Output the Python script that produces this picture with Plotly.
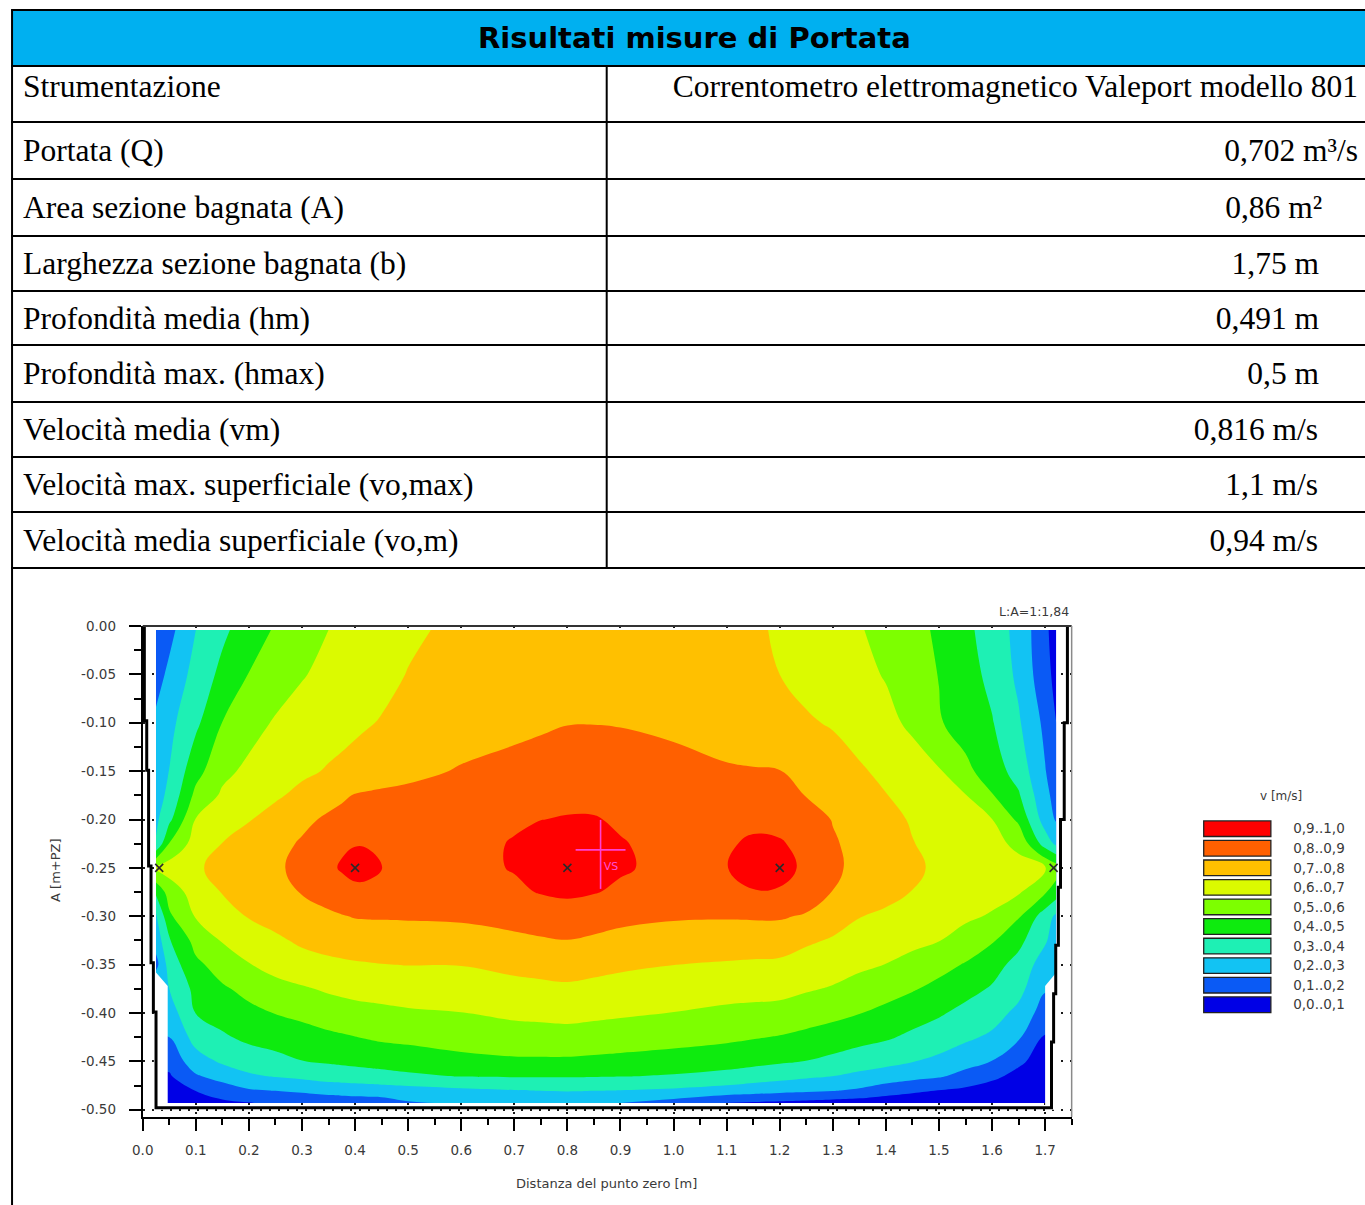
import plotly.graph_objects as go

# The figure sits inside the page's default 8px body margin, and the captured
# page is 8px larger than the target in each direction; page positions below
# are given in target pixels and converted with these factors.
PAGE_W, PAGE_H = 1365, 1205
PAGE_MARGIN = 8
KX = (PAGE_W + PAGE_MARGIN) / PAGE_W
KY = (PAGE_H + PAGE_MARGIN) / PAGE_H
W, H = PAGE_W, PAGE_H

# ---------------- summary table ----------------
TABLE_TITLE = "Risultati misure di Portata"
ROW_LABELS = [
    "Strumentazione",
    "Portata (Q)",
    "Area sezione bagnata (A)",
    "Larghezza sezione bagnata (b)",
    "Profondità media (hm)",
    "Profondità max. (hmax)",
    "Velocità media (vm)",
    "Velocità max. superficiale (vo,max)",
    "Velocità media superficiale (vo,m)",
]
ROW_VALUES = [
    "Correntometro elettromagnetico Valeport modello 801",
    "0,702 m³/s",
    "0,86 m²",
    "1,75 m",
    "0,491 m",
    "0,5 m",
    "0,816 m/s",
    "1,1 m/s",
    "0,94 m/s",
]

# ---------------- velocity field of the wetted section (m/s) ----------------
X_NODES = [0.025, 0.05, 0.1, 0.15, 0.2, 0.25, 0.3, 0.35, 0.375, 0.4, 0.425, 0.45, 0.5, 0.6, 0.7,
           0.75, 0.8, 0.85, 0.9, 1.0, 1.1, 1.15, 1.2, 1.25, 1.3, 1.35, 1.4, 1.45, 1.5, 1.55, 1.6,
           1.65, 1.7, 1.721]
Y_NODES = [-0.004, -0.05, -0.1, -0.15, -0.175, -0.2, -0.225, -0.25, -0.275, -0.3,
           -0.325, -0.35, -0.375, -0.4, -0.425, -0.45, -0.465, -0.48, -0.493]
V_GRID = [
    [.11, .17, .30, .38, .45, .51, .56, .60, .615, .63, .645, .66, .685, .72, .745, .756, .765, .767, .765, .75, .725, .709, .693, .664, .636, .607, .57, .53, .485, .423, .355, .27, .123, .05],
    [.16, .222, .336, .425, .503, .549, .594, .623, .637, .65, .664, .677, .703, .73, .755, .766, .775, .777, .775, .76, .735, .718, .70, .674, .648, .623, .594, .546, .497, .44, .374, .28, .135, .07],
    [.22, .273, .379, .502, .562, .61, .635, .66, .673, .685, .695, .705, .715, .74, .77, .785, .797, .798, .795, .78, .755, .74, .725, .71, .692, .658, .625, .582, .509, .456, .406, .312, .177, .10],
    [.25, .302, .466, .575, .622, .652, .682, .708, .718, .728, .739, .749, .769, .81, .835, .843, .85, .849, .845, .83, .81, .806, .802, .773, .742, .712, .678, .643, .609, .525, .45, .36, .205, .14],
    [.26, .323, .526, .615, .651, .686, .725, .767, .786, .805, .813, .82, .83, .85, .87, .875, .88, .878, .87, .855, .845, .838, .83, .797, .766, .734, .703, .67, .637, .604, .506, .411, .223, .17],
    [.28, .377, .605, .65, .695, .737, .779, .815, .828, .84, .846, .85, .857, .87, .89, .899, .905, .905, .89, .87, .872, .87, .868, .843, .796, .761, .726, .692, .662, .631, .602, .48, .255, .19],
    [.31, .505, .644, .702, .736, .772, .81, .855, .885, .895, .893, .87, .865, .875, .905, .935, .95, .94, .905, .875, .885, .92, .91, .87, .81, .772, .738, .703, .676, .65, .623, .583, .355, .28],
    [.62, .645, .69, .722, .753, .784, .827, .88, .91, .935, .925, .902, .875, .875, .905, .95, .97, .955, .91, .875, .897, .95, .935, .88, .815, .778, .745, .713, .687, .666, .645, .624, .603, .55],
    [.42, .543, .646, .704, .737, .771, .805, .84, .86, .873, .875, .87, .86, .865, .885, .905, .915, .905, .885, .87, .875, .893, .89, .855, .798, .767, .733, .698, .678, .656, .633, .611, .51, .45],
    [.28, .483, .607, .66, .706, .732, .758, .784, .795, .805, .807, .808, .81, .815, .83, .85, .86, .845, .825, .81, .808, .81, .81, .79, .742, .703, .68, .659, .639, .618, .59, .51, .35, .28],
    [.24, .39, .533, .607, .646, .684, .715, .735, .743, .751, .753, .754, .756, .76, .782, .79, .798, .785, .772, .759, .749, .748, .747, .714, .691, .669, .647, .625, .603, .558, .51, .427, .312, .25],
    [.17, .341, .48, .539, .595, .645, .665, .68, .685, .69, .694, .698, .702, .703, .725, .733, .741, .729, .717, .701, .691, .686, .681, .66, .642, .619, .598, .568, .53, .493, .438, .366, .25, .2],
    [.30, .30, .428, .488, .525, .557, .589, .613, .622, .63, .635, .639, .645, .65, .671, .678, .684, .675, .665, .65, .637, .633, .629, .61, .592, .563, .538, .508, .475, .433, .39, .33, .21, .21],
    [.25, .25, .402, .44, .478, .503, .522, .549, .558, .566, .572, .577, .588, .598, .619, .624, .629, .621, .613, .598, .58, .574, .568, .546, .526, .503, .475, .445, .412, .371, .34, .275, .15, .15],
    [.2, .2, .338, .386, .422, .442, .462, .48, .489, .498, .507, .516, .525, .542, .558, .562, .565, .558, .55, .537, .52, .507, .494, .476, .457, .434, .413, .379, .35, .318, .283, .212, .09, .09],
    [.13, .13, .257, .314, .346, .37, .398, .41, .417, .424, .43, .435, .446, .473, .485, .485, .485, .479, .473, .458, .44, .427, .413, .398, .375, .348, .326, .303, .278, .237, .198, .12, .05, .05],
    [.09, .09, .19, .24, .287, .308, .325, .347, .352, .356, .364, .371, .385, .405, .41, .41, .41, .408, .405, .393, .371, .353, .335, .317, .302, .278, .258, .233, .213, .169, .125, .07, .04, .04],
    [.06, .06, .102, .15, .19, .203, .217, .236, .24, .245, .25, .255, .264, .282, .297, .302, .307, .303, .298, .285, .262, .246, .23, .22, .206, .186, .147, .12, .098, .08, .05, .04, .03, .03],
    [.04, .04, .06, .08, .095, .12, .13, .14, .145, .15, .152, .155, .19, .21, .22, .22, .22, .21, .2, .16, .095, .088, .08, .07, .06, .05, .04, .03, .03, .02, .02, .02, .02, .02],
]
assert all(len(row) == len(X_NODES) for row in V_GRID) and len(V_GRID) == len(Y_NODES)

# velocity classes (m/s) and their fill colours, slowest first
LEVEL_LABELS = ["0,0..0,1", "0,1..0,2", "0,2..0,3", "0,3..0,4", "0,4..0,5",
                "0,5..0,6", "0,6..0,7", "0,7..0,8", "0,8..0,9", "0,9..1,0"]
LEVEL_COLORS = ["#0000E6", "#0A5AF5", "#12C3F3", "#1EF0B4", "#0EEB0E",
                "#7DFF00", "#DBFA00", "#FFC000", "#FF6000", "#FF0000"]

# measuring points along the verticals
POINTS_X = [0.031, 0.4, 0.8, 1.2, 1.716]
POINTS_Y = [-0.25, -0.25, -0.25, -0.25, -0.25]

# surface-velocity reference mark
VS_X, VS_Y = 0.8625, -0.2314

# channel outline (left wall, bed, right wall)
WALL_X = [0.003, 0.003, 0.0075, 0.0075, 0.011, 0.011, 0.0156, 0.0156, 0.02, 0.02, 0.025, 0.025,
          1.712, 1.712, 1.716, 1.716, 1.72, 1.72, 1.725, 1.725, 1.729, 1.729, 1.736, 1.736, 1.742, 1.742]
WALL_Y = [0.0, -0.098, -0.098, -0.149, -0.149, -0.248, -0.248, -0.348, -0.348, -0.399, -0.399, -0.498,
          -0.498, -0.43, -0.43, -0.38, -0.38, -0.33, -0.33, -0.27, -0.27, -0.2, -0.2, -0.1, -0.1, 0.0]
# dry corners at the foot of each wall
DRY_LEFT_X = [0.021, 0.025, 0.047, 0.047, 0.021]
DRY_LEFT_Y = [-0.358, -0.358, -0.372, -0.5, -0.5]
DRY_RIGHT_X = [1.725, 1.721, 1.700, 1.700, 1.725]
DRY_RIGHT_Y = [-0.358, -0.358, -0.372, -0.5, -0.5]

X_TICKS = [round(0.1 * i, 1) for i in range(18)]
X_TICK_TEXT = ["%.1f" % v for v in X_TICKS]
Y_TICKS = [round(-0.05 * i, 2) for i in range(11)]
Y_TICK_TEXT = ["0.00"] + ["-%.2f" % abs(v) for v in Y_TICKS[1:]]

# ---------------- page geometry (target pixels) ----------------
PLOT_L, PLOT_R, PLOT_T, PLOT_B = 140, 1071, 626, 1117
TABLE_LINES = [10, 66, 122, 179, 236, 291, 345, 402, 457, 512, 568]
TABLE_DIV = 605
TABLE_BOTTOM = 575
LABEL_LEFT = 20
VALUE_RIGHT = [1358, 1358, 1322, 1319, 1319, 1319, 1318, 1318, 1318]
TEXT_SHIFT = 3


def fx(p):
    return (p * KX - PAGE_MARGIN) / W


def fy(p):
    return 1 - (p * KY - PAGE_MARGIN) / H


GRAY = "#3a3a3a"
SMALL = "DejaVu Sans"
SERIF = "Liberation Serif"

# discrete colour scale: one flat colour per velocity class
colorscale = []
n = len(LEVEL_COLORS)
for i, c in enumerate(LEVEL_COLORS):
    colorscale += [[i / n, c], [(i + 1) / n, c]]

fig = go.Figure()

fig.add_trace(go.Contour(
    x=X_NODES, y=Y_NODES, z=V_GRID,
    autocontour=False,
    contours=dict(start=0.1, end=0.9, size=0.1, coloring="fill", showlines=False),
    colorscale=colorscale, showscale=False,
    line=dict(width=0, smoothing=1.2),
    hoverinfo="skip", xaxis="x", yaxis="y",
))

for dx, dy in ((DRY_LEFT_X, DRY_LEFT_Y), (DRY_RIGHT_X, DRY_RIGHT_Y)):
    fig.add_trace(go.Scatter(x=dx, y=dy, mode="lines", fill="toself", fillcolor="white",
                             line=dict(width=0, color="white"), hoverinfo="skip",
                             xaxis="x", yaxis="y", showlegend=False))

fig.add_trace(go.Scatter(x=WALL_X, y=WALL_Y, mode="lines",
                         line=dict(color="black", width=3), hoverinfo="skip",
                         xaxis="x", yaxis="y", showlegend=False))

fig.add_trace(go.Scatter(x=POINTS_X, y=POINTS_Y, mode="markers",
                         marker=dict(symbol="x-thin", size=8, line=dict(color="#2b2b2b", width=1.6)),
                         hoverinfo="skip", xaxis="x", yaxis="y", showlegend=False))

# surface-velocity cross
arm_x, arm_y = 0.047, 0.031
fig.add_trace(go.Scatter(x=[VS_X - arm_x, VS_X + arm_x, None, VS_X, VS_X],
                         y=[VS_Y, VS_Y, None, VS_Y + arm_y, VS_Y - 1.3 * arm_y],
                         mode="lines", line=dict(color="#FF3FD2", width=1.6),
                         hoverinfo="skip", xaxis="x", yaxis="y", showlegend=False))
fig.add_trace(go.Scatter(x=[VS_X + 0.006], y=[VS_Y - 0.012], mode="text", text=["VS"],
                         textposition="bottom right",
                         textfont=dict(family=SMALL, size=11, color="#FF4FD8"),
                         hoverinfo="skip", xaxis="x", yaxis="y", showlegend=False))

# colour key
fig.add_trace(go.Bar(x=[1] * n, y=list(range(n)), orientation="h", width=0.8,
                     marker=dict(color=LEVEL_COLORS, line=dict(color="#222222", width=1.3)),
                     hoverinfo="skip", xaxis="x3", yaxis="y3", showlegend=False))

# table text
row_mid = [(TABLE_LINES[i + 1] + TABLE_LINES[i + 2]) / 2 + TEXT_SHIFT for i in range(len(ROW_LABELS))]
row_mid[0] -= 8
fig.add_trace(go.Scatter(x=[LABEL_LEFT] * len(ROW_LABELS), y=row_mid, mode="text", text=ROW_LABELS,
                         textposition="middle right",
                         textfont=dict(family=SERIF, size=31.5, color="black"),
                         hoverinfo="skip", xaxis="x2", yaxis="y2", showlegend=False))
fig.add_trace(go.Scatter(x=VALUE_RIGHT, y=row_mid, mode="text", text=ROW_VALUES,
                         textposition="middle left",
                         textfont=dict(family=SERIF, size=31.5, color="black"),
                         hoverinfo="skip", xaxis="x2", yaxis="y2", showlegend=False))

shapes = [dict(type="rect", xref="x2", yref="y2", x0=9, x1=PAGE_W + 4, y0=TABLE_LINES[0], y1=TABLE_LINES[1],
               fillcolor="#00B0F0", line=dict(width=0), layer="below")]
for yy in TABLE_LINES:
    shapes.append(dict(type="line", xref="x2", yref="y2", x0=8, x1=PAGE_W + 4, y0=yy, y1=yy,
                       line=dict(color="black", width=2)))
shapes.append(dict(type="line", xref="x2", yref="y2", x0=TABLE_DIV, x1=TABLE_DIV,
                   y0=TABLE_LINES[1], y1=TABLE_LINES[-1], line=dict(color="black", width=2)))
shapes.append(dict(type="line", xref="x2", yref="paper", x0=9, x1=9,
                   y0=0, y1=fy(TABLE_LINES[0]), line=dict(color="black", width=2)))
# plot frame: dark top edge, light right edge
shapes.append(dict(type="line", xref="paper", yref="paper", x0=fx(PLOT_L), x1=fx(PLOT_R),
                   y0=fy(PLOT_T), y1=fy(PLOT_T), line=dict(color="#333333", width=2)))
shapes.append(dict(type="line", xref="paper", yref="paper", x0=fx(PLOT_R), x1=fx(PLOT_R),
                   y0=fy(PLOT_B), y1=fy(PLOT_T), line=dict(color="#8a8a8a", width=1.5)))

annotations = [
    dict(text=TABLE_TITLE, x=fx(693), y=fy(38), xref="paper", yref="paper", showarrow=False,
         xanchor="center", yanchor="middle",
         font=dict(family="DejaVu Sans", size=29, color="black", weight="bold")),
    dict(text="L:A=1:1,84", x=fx(1070), y=fy(611), xref="paper", yref="paper", showarrow=False,
         xanchor="right", yanchor="middle", font=dict(family=SMALL, size=12.5, color=GRAY)),
    dict(text="A [m+PZ]", x=fx(52), y=fy(870), xref="paper", yref="paper", showarrow=False,
         textangle=-90, xanchor="center", yanchor="middle", font=dict(family=SMALL, size=13, color=GRAY)),
    dict(text="Distanza del punto zero [m]", x=fx(605), y=fy(1183), xref="paper", yref="paper",
         showarrow=False, xanchor="center", yanchor="middle", font=dict(family=SMALL, size=13, color=GRAY)),
    dict(text="v [m/s]", x=fx(1281), y=fy(796), xref="paper", yref="paper", showarrow=False,
         xanchor="center", yanchor="middle", font=dict(family=SMALL, size=12, color=GRAY)),
]

grid_style = dict(showgrid=True, gridcolor="#1a1a1a", gridwidth=1.6, griddash="2px,7px")

fig.update_layout(
    width=W, height=H, margin=dict(l=0, r=0, t=0, b=0),
    paper_bgcolor="white", plot_bgcolor="white", showlegend=False,
    shapes=shapes, annotations=annotations,
    xaxis=dict(domain=[fx(PLOT_L), fx(PLOT_R)], range=[0, 1.75], anchor="y",
               tickmode="array", tickvals=X_TICKS, ticktext=X_TICK_TEXT,
               ticks="outside", ticklen=12, tickwidth=1.5, tickcolor="black",
               minor=dict(tickmode="linear", tick0=0, dtick=0.05, ticks="outside", ticklen=6,
                          tickwidth=1.5, tickcolor="black", showgrid=False),
               showline=True, linecolor="black", linewidth=2, mirror=False,
               zeroline=False, layer="above traces", ticklabelstandoff=8,
               tickfont=dict(family=SMALL, size=13.5, color=GRAY), **grid_style),
    yaxis=dict(domain=[fy(PLOT_B), fy(PLOT_T)], range=[-0.5075, 0], anchor="x",
               tickmode="array", tickvals=Y_TICKS, ticktext=Y_TICK_TEXT,
               ticks="outside", ticklen=12, tickwidth=1.5, tickcolor="black",
               minor=dict(tickmode="linear", tick0=0, dtick=0.025, ticks="outside", ticklen=7,
                          tickwidth=1.5, tickcolor="black", showgrid=False),
               showline=True, linecolor="black", linewidth=2, mirror=False,
               zeroline=False, layer="above traces", ticklabelstandoff=10,
               tickfont=dict(family=SMALL, size=13.5, color=GRAY), **grid_style),
    xaxis2=dict(domain=[0, 1], range=[PAGE_MARGIN / KX, (W + PAGE_MARGIN) / KX], visible=False,
                anchor="y2", fixedrange=True),
    yaxis2=dict(domain=[fy(TABLE_BOTTOM), 1], range=[TABLE_BOTTOM, PAGE_MARGIN / KY], visible=False,
                anchor="x2", fixedrange=True),
    xaxis3=dict(domain=[fx(1202), fx(1272)], range=[-0.02, 1.02], visible=False, anchor="y3"),
    yaxis3=dict(domain=[fy(1014.5), fy(818.9)], range=[-0.5, n - 0.5], anchor="x3",
                side="right", tickmode="array", tickvals=list(range(n)), ticktext=LEVEL_LABELS,
                ticks="", showline=False, showgrid=False, zeroline=False, ticklabelstandoff=20,
                tickfont=dict(family=SMALL, size=13.5, color=GRAY)),
)

fig.write_html("out.html")
